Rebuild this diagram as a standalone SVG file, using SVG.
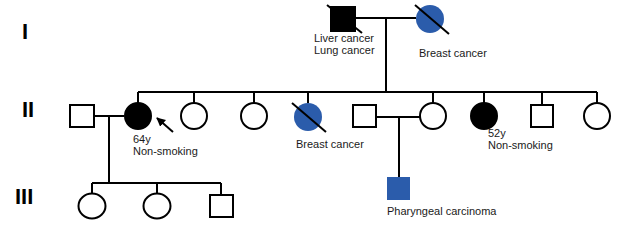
<svg xmlns="http://www.w3.org/2000/svg" width="624" height="226" viewBox="0 0 624 226">
<style>
.ln{stroke:#000;stroke-width:2;fill:none}
.open{fill:#fff;stroke:#000;stroke-width:2}
.aff{fill:#000;stroke:#000;stroke-width:2}
.blue{fill:#2b5cab;stroke:none}
.slash{stroke:#000;stroke-width:2}
.lbl{font-family:"Liberation Sans",Arial,sans-serif;font-size:11px;fill:#1a1a1a}
.gen{font-family:"Liberation Sans",Arial,sans-serif;font-size:22px;font-weight:bold;fill:#000}
</style>
<defs>
<marker id="ah" viewBox="0 0 10 10" refX="9" refY="5" markerWidth="4.5" markerHeight="4.5" orient="auto">
<path d="M0,0 L10,5 L0,10 z" fill="#000"/>
</marker>
</defs>
<rect width="624" height="226" fill="#fff"/>
<g id="generations">
<text class="gen" x="22" y="39">I</text>
<text class="gen" x="22" y="117">II</text>
<text class="gen" x="15" y="204">III</text>
</g>
<g id="connectors">
<line class="ln" x1="355" y1="18" x2="416" y2="18"/>
<line class="ln" x1="386" y1="18" x2="386" y2="92"/>
<line class="ln" x1="138" y1="92" x2="597" y2="92"/>
<line class="ln" x1="138" y1="92" x2="138" y2="103"/>
<line class="ln" x1="194" y1="92" x2="194" y2="103"/>
<line class="ln" x1="254" y1="92" x2="254" y2="103"/>
<line class="ln" x1="308" y1="92" x2="308" y2="103"/>
<line class="ln" x1="433" y1="92" x2="433" y2="103"/>
<line class="ln" x1="484" y1="92" x2="484" y2="103"/>
<line class="ln" x1="542" y1="92" x2="542" y2="105"/>
<line class="ln" x1="597" y1="92" x2="597" y2="103"/>
<line class="ln" x1="94" y1="116" x2="124" y2="116"/>
<line class="ln" x1="109" y1="116" x2="109" y2="183"/>
<line class="ln" x1="92" y1="183" x2="221" y2="183"/>
<line class="ln" x1="92" y1="183" x2="92" y2="193"/>
<line class="ln" x1="157" y1="183" x2="157" y2="193"/>
<line class="ln" x1="221" y1="183" x2="221" y2="195"/>
<line class="ln" x1="376" y1="117" x2="420" y2="117"/>
<line class="ln" x1="399" y1="117" x2="399" y2="177"/>
<line class="ln" x1="173" y1="132" x2="157" y2="118" marker-end="url(#ah)"/>
</g>
<g id="I-1">
<rect class="aff" x="331" y="7" width="24" height="24"/>
<line class="slash" x1="327" y1="5" x2="362" y2="33"/>
<text class="lbl" x="314" y="42">Liver cancer</text>
<text class="lbl" x="314" y="54">Lung cancer</text>
</g>
<g id="I-2">
<circle class="blue" cx="430" cy="19" r="14"/>
<line class="slash" x1="415" y1="5" x2="449" y2="34"/>
<text class="lbl" x="419" y="57">Breast cancer</text>
</g>
<g id="II-1"><rect class="open" x="70" y="105" width="24" height="22"/></g>
<g id="II-2">
<circle class="aff" cx="138" cy="116" r="13"/>
<text class="lbl" x="133" y="143">64y</text>
<text class="lbl" x="133" y="155">Non-smoking</text>
</g>
<g id="II-3"><circle class="open" cx="194" cy="116" r="13"/></g>
<g id="II-4"><circle class="open" cx="254" cy="116" r="13"/></g>
<g id="II-5">
<circle class="blue" cx="308" cy="117" r="14"/>
<line class="slash" x1="292" y1="103" x2="326" y2="132"/>
<text class="lbl" x="296" y="148">Breast cancer</text>
</g>
<g id="II-6"><rect class="open" x="353" y="105" width="23" height="22"/></g>
<g id="II-7"><circle class="open" cx="433" cy="116" r="13"/></g>
<g id="II-8">
<circle class="aff" cx="484" cy="116" r="13"/>
<text class="lbl" x="488" y="137">52y</text>
<text class="lbl" x="488" y="149">Non-smoking</text>
</g>
<g id="II-9"><rect class="open" x="531" y="105" width="22" height="22"/></g>
<g id="II-10"><circle class="open" cx="597" cy="116" r="13"/></g>
<g id="III-1"><ellipse class="open" cx="92" cy="206" rx="13.5" ry="12.5"/></g>
<g id="III-2"><ellipse class="open" cx="157" cy="206" rx="13.5" ry="12.5"/></g>
<g id="III-3"><rect class="open" x="210" y="195" width="23" height="22"/></g>
<g id="III-4">
<rect class="blue" x="387" y="177" width="23" height="23"/>
<text class="lbl" x="387" y="215">Pharyngeal carcinoma</text>
</g>
</svg>
